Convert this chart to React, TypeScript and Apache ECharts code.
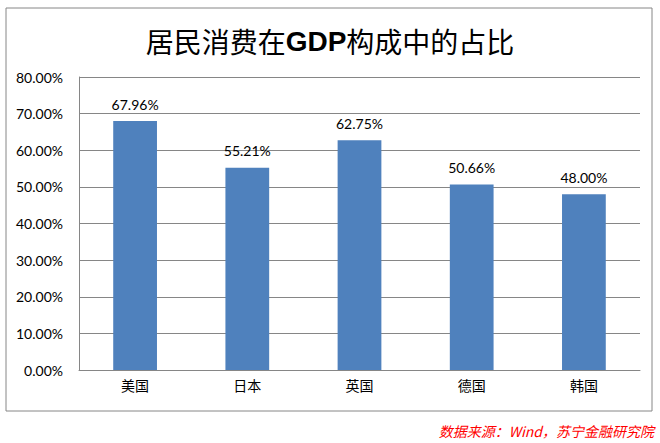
import React, { useEffect, useRef } from "react";
import * as echarts from "echarts";

const categories = ["美国", "日本", "英国", "德国", "韩国"];
const values = [67.96, 55.21, 62.75, 50.66, 48.0];
const yTicks = [0, 10, 20, 30, 40, 50, 60, 70, 80];

export default function App() {
  const ref = useRef<HTMLDivElement>(null);
  useEffect(() => {
    const chart = echarts.init(ref.current!, null, { renderer: "svg" });
    chart.setOption({
      animation: false,
      backgroundColor: "#ffffff",
      title: {
        text: "{a|居民消费在}{b|GDP}{a|构成中的占比}",
        left: "center",
        top: 22,
        textStyle: {
          rich: {
            a: { fontSize: 28, fontFamily: "Noto Sans CJK SC", fontWeight: "normal", color: "#000" },
            b: { fontSize: 28, fontFamily: "Liberation Sans", fontWeight: "bold", color: "#000" },
          },
        },
      },
      graphic: [
        {
          type: "rect",
          shape: { x: 6, y: 8, width: 646, height: 403 },
          style: { fill: "none", stroke: "#868686", lineWidth: 1 },
          z: -1,
        },
        {
          type: "text",
          right: 6,
          top: 424,
          style: {
            text: "数据来源：Wind，苏宁金融研究院",
            fill: "#ff0000",
            fontSize: 14,
            fontStyle: "italic",
            fontFamily: "Noto Sans CJK SC",
          },
        },
      ],
      grid: { left: 79, right: 20, top: 77, bottom: 73 },
      xAxis: {
        type: "category",
        data: categories,
        axisLine: { lineStyle: { color: "#868686" } },
        axisTick: { show: false },
        axisLabel: { color: "#000", fontSize: 14, fontFamily: "Noto Sans CJK SC", margin: 8 },
      },
      yAxis: {
        type: "value",
        min: yTicks[0],
        max: yTicks[yTicks.length - 1],
        interval: 10,
        axisLine: { show: true, lineStyle: { color: "#868686" } },
        axisTick: { show: false },
        splitLine: { lineStyle: { color: "#868686" } },
        axisLabel: {
          color: "#000",
          fontSize: 14,
          fontFamily: "Lato",
          margin: 16,
          formatter: (v: number) => v.toFixed(2) + "%",
        },
      },
      series: [
        {
          type: "bar",
          data: values,
          barWidth: "39%",
          itemStyle: { color: "#4F81BD" },
          label: {
            show: true,
            position: "top",
            distance: 10,
            color: "#000",
            fontSize: 14,
            fontFamily: "Lato",
            formatter: (p: any) => p.value.toFixed(2) + "%",
          },
        },
      ],
    });
    return () => chart.dispose();
  }, []);
  return <div ref={ref} style={{ width: 660, height: 443, position: "absolute", left: 0, top: 0 }} />;
}
